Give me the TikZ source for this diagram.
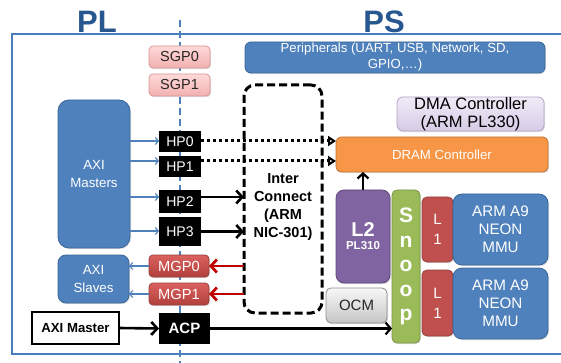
\documentclass[tikz,border=0pt]{standalone}
\usepackage{fontspec}
\setmainfont{Liberation Sans}
\usetikzlibrary{arrows.meta,calc,shadows}
\newcommand\myfs[2]{\fontsize{#1}{#2}\selectfont}
\definecolor{frameblue}{HTML}{4A7EBB}
\definecolor{titleblue}{HTML}{28568F}
\definecolor{boxblue}{HTML}{4F81BD}
\definecolor{boxblueD}{HTML}{3A6597}
\definecolor{orangeF}{HTML}{F79646}
\definecolor{orangeD}{HTML}{C0763A}
\definecolor{purpF}{HTML}{8064A2}
\definecolor{purpD}{HTML}{5F4A7A}
\definecolor{greenF}{HTML}{9BBB59}
\definecolor{greenD}{HTML}{7A9446}
\definecolor{redF}{HTML}{C0504D}
\definecolor{redD}{HTML}{93403E}
\definecolor{pinkT}{HTML}{FFDADA}
\definecolor{pinkB}{HTML}{F2AFAF}
\definecolor{pinkD}{HTML}{D99694}
\definecolor{lavT}{HTML}{F0EBF7}
\definecolor{lavB}{HTML}{D6CBE6}
\definecolor{lavD}{HTML}{B3A2C7}
\definecolor{grayT}{HTML}{F7F7F7}
\definecolor{grayB}{HTML}{C6C6C6}
\definecolor{grayD}{HTML}{8C8C8C}
\definecolor{mgpT}{HTML}{DB625E}
\definecolor{mgpB}{HTML}{B03F3C}
\definecolor{arrowred}{HTML}{C00000}
\begin{document}
\begin{tikzpicture}[x=1pt,y=-1pt,
  blk/.style={rectangle, inner sep=0pt, outer sep=0pt, align=center},
  shad/.style={drop shadow={opacity=0.25, shadow xshift=1pt, shadow yshift=-1.2pt}},
  bluebox/.style={blk, shad, fill=boxblue, draw=boxblueD, line width=0.8pt, rounded corners=9pt, text=white, font=\myfs{13.3}{18}},
  pinkbox/.style={blk, shad, top color=pinkT, bottom color=pinkB, draw=pinkD, line width=0.8pt, rounded corners=4pt, text=black!85, font=\myfs{14.5}{16}},
  mgpbox/.style={blk, shad, top color=mgpT, bottom color=mgpB, draw=redD, line width=0.8pt, rounded corners=4pt, text=white, font=\myfs{14.7}{16}},
  hpbox/.style={blk, fill=black, text=white, font=\myfs{14}{16}},
  redbox/.style={blk, shad, fill=redF, draw=redD, line width=0.8pt, rounded corners=5pt, text=white, font=\myfs{15}{20}},
  armbox/.style={bluebox, font=\myfs{15.2}{18}},
  thickarrow/.style={line width=2.6pt, -{Straight Barb[length=6pt,width=13pt]}},
  redarrow/.style={line width=2.8pt, arrowred, -{Straight Barb[length=6pt,width=13pt]}},
  dotarrow/.style={line width=3pt, dash pattern=on 3pt off 3pt, -{Triangle[open,length=8pt,width=10pt,line width=2.4pt]}},
  thinarrow/.style={line width=1.1pt, boxblue, -{Straight Barb[length=3pt,width=7pt]}},
  title/.style={text=titleblue, font=\myfs{31}{34}\bfseries, inner sep=0pt}
]
\useasboundingbox (0,0) rectangle (561,363);
\fill[white] (0,0) rectangle (561,363);
% frame and divider
\draw[frameblue, line width=2.4pt] (561,34) -- (12,34) -- (12,354) -- (561,354);
\draw[boxblue, line width=2.8pt, dash pattern=on 7pt off 4pt] (180,20) -- (180,363);
\node[title, anchor=base] (pl) at (97,33) {PL};
\node[title, anchor=base] (ps) at (384,33) {PS};
% PL side
\node[pinkbox, minimum width=61, minimum height=22] (sgp0) at (179.5,57) {SGP0};
\node[pinkbox, minimum width=61, minimum height=22] (sgp1) at (179.5,85) {SGP1};
\node[bluebox, minimum width=72, minimum height=148, rounded corners=11pt] (axim) at (94,174) {AXI\\Masters};
\node[bluebox, minimum width=71, minimum height=48, rounded corners=8pt] (axis) at (93.5,279) {AXI\\Slaves};
\node[hpbox, minimum width=42, minimum height=21] (hp0) at (180,141.5) {HP0};
\node[hpbox, minimum width=42, minimum height=21] (hp1) at (180,166.5) {HP1};
\node[hpbox, minimum width=42, minimum height=23] (hp2) at (180,201.5) {HP2};
\node[hpbox, minimum width=42, minimum height=29] (hp3) at (180,231.5) {HP3};
\node[mgpbox, minimum width=60, minimum height=22] (mgp0) at (179,266) {MGP0};
\node[mgpbox, minimum width=60, minimum height=22] (mgp1) at (179,294) {MGP1};
\node[blk, draw=black, fill=white, line width=2.6pt, minimum width=87, minimum height=32, font=\myfs{13.2}{15}\bfseries] (aximaster) at (75.5,328) {AXI Master};
\node[hpbox, minimum width=51, minimum height=31, font=\myfs{15}{17}\bfseries] (acp) at (184.5,328.5) {ACP};
% PS side
\node[bluebox, minimum width=300, minimum height=31, rounded corners=6pt, font=\myfs{13.2}{16}] (periph) at (395,57.5) {Peripherals (UART, USB, Network, SD,\\GPIO,\ldots)};
\node[blk, shad, top color=lavT, bottom color=lavB, draw=lavD, line width=0.8pt, rounded corners=6pt, minimum width=147, minimum height=34, font=\myfs{16.5}{17.5}] (dma) at (470.5,114) {DMA Controller\\(ARM PL330)};
\node[blk, shad, fill=orangeF, draw=orangeD, line width=0.8pt, rounded corners=5pt, minimum width=212, minimum height=35, text=white, font=\myfs{13.2}{15}] (dram) at (442,154.5) {DRAM Controller};
\node[blk, draw=black, line width=3pt, dash pattern=on 8pt off 4pt, rounded corners=11pt, minimum width=78, minimum height=228] (ic) at (283,199) {};
\node[blk, font=\myfs{14.5}{18}\bfseries] (ictext) at (283,207) {Inter\\Connect\\(ARM\\NIC-301)};
\node[blk, shad, fill=purpF, draw=purpD, line width=0.8pt, rounded corners=8pt, minimum width=54, minimum height=93, text=white] (l2) at (363,236.5) {\myfs{20}{20}\bfseries L2\\[1pt]\myfs{11.5}{12}\bfseries PL310};
\node[blk, shad, top color=grayT, bottom color=grayB, draw=grayD, line width=0.8pt, rounded corners=5pt, minimum width=61, minimum height=35, text=black!85, font=\myfs{15}{17}] (ocm) at (356.5,305.5) {OCM};
\node[blk, shad, fill=greenF, draw=greenD, line width=0.8pt, rounded corners=5pt, minimum width=28, minimum height=153, text=white, font=\myfs{21}{24.5}\bfseries] (snoop) at (406,266.5) {S\\n\\o\\o\\p};
\node[redbox, minimum width=31, minimum height=65] (l1a) at (437.5,229.5) {L\\1};
\node[redbox, minimum width=31, minimum height=66] (l1b) at (437.5,303) {L\\1};
\node[armbox, minimum width=95, minimum height=71] (arm1) at (500.5,229.5) {ARM A9\\NEON\\MMU};
\node[armbox, minimum width=95, minimum height=71] (arm2) at (500.5,303.5) {ARM A9\\NEON\\MMU};
% connectors
\draw[thinarrow] ([yshift=0.5pt]hp0.west -| axim.east) -- ([yshift=0.5pt]hp0.west);
\draw[thinarrow] ([yshift=5.5pt]hp1.west -| axim.east) -- ([yshift=5.5pt]hp1.west);
\draw[thinarrow] ([yshift=4.5pt]hp2.west -| axim.east) -- ([yshift=4.5pt]hp2.west);
\draw[thinarrow] ([yshift=0.5pt]hp3.west -| axim.east) -- ([yshift=0.5pt]hp3.west);
\draw[thinarrow] (mgp0.west) -- (mgp0.west -| axis.east);
\draw[thinarrow] (mgp1.west) -- (mgp1.west -| axis.east);
\draw[dotarrow] ([yshift=0.5pt]hp0.east) -- ([yshift=0.5pt]hp0.east -| dram.west);
\draw[dotarrow] ([yshift=5.5pt]hp1.east) -- ([yshift=5.5pt]hp1.east -| dram.west);
\draw[thickarrow] ([yshift=4.5pt]hp2.east) -- ([yshift=4.5pt]hp2.east -| ic.west);
\draw[thickarrow] ([yshift=0pt]hp3.east) -- ([yshift=0pt]hp3.east -| ic.west);
\draw[redarrow] (mgp0.east -| ic.west) -- (mgp0.east);
\draw[redarrow] (mgp1.east -| ic.west) -- (mgp1.east);
\draw[thickarrow] (aximaster.east) -- (acp.west);
\draw[line width=2.2pt, -{Straight Barb[length=5pt,width=12pt]}] (acp.east) -- (acp.east -| snoop.west);
\draw[line width=2.2pt, -{Straight Barb[length=5pt,width=11pt]}] (l2.north) -- (l2.north |- dram.south);
\end{tikzpicture}
\end{document}
